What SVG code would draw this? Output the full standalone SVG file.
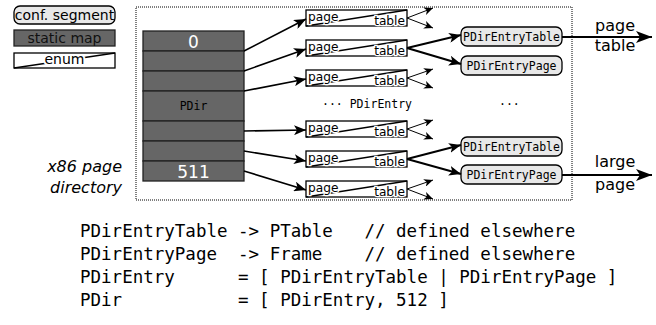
<svg xmlns="http://www.w3.org/2000/svg" width="656" height="325" viewBox="0 0 656 325">
<defs>
<marker id="ah" markerUnits="userSpaceOnUse" markerWidth="14" markerHeight="10" refX="12" refY="5" orient="auto"><path d="M0,0 L12,5 L0,10 L3,5 z" fill="#000"/></marker>
<marker id="ahs" markerUnits="userSpaceOnUse" markerWidth="10" markerHeight="8" refX="9" refY="4" orient="auto"><path d="M0,0 L9,4 L0,8 L2.5,4 z" fill="#000"/></marker>
<marker id="ahb" markerUnits="userSpaceOnUse" markerWidth="18" markerHeight="12" refX="16" refY="6" orient="auto"><path d="M0,0 L16,6 L0,12 L4,6 z" fill="#000"/></marker>
</defs>
<style>
.sans{font-family:"DejaVu Sans",sans-serif}
.mono{font-family:"DejaVu Sans Mono",monospace}
.seg{fill:#e8e8e8;stroke:#000;stroke-width:1.3}
.map{fill:#666;stroke:#222;stroke-width:1.3}
.enum{fill:#fff;stroke:#000;stroke-width:1.3}
.diag{stroke:#000;stroke-width:1.3}
.halo{stroke:#fff;stroke-width:2.5;paint-order:stroke;fill:#000}
.arr{stroke:#000;stroke-width:1.6;fill:none;marker-end:url(#ah)}
.fork{stroke:#000;stroke-width:1;fill:none;marker-end:url(#ahs)}
.bold{stroke:#000;stroke-width:2;fill:none;marker-end:url(#ah)}
.out{stroke:#000;stroke-width:2.2;fill:none;marker-end:url(#ahb)}
.pt{font-size:12.2px}
.nl{font-size:11.5px;text-anchor:middle}
.code{font-size:17.5px;white-space:pre}
</style>

<g id="legend">
<rect class="seg" x="14" y="6" width="101" height="18" rx="6"/>
<text class="sans" x="64.5" y="20" font-size="14" text-anchor="middle">conf. segment</text>
<rect class="map" x="14" y="30" width="101" height="16"/>
<text class="sans" x="64.5" y="43" font-size="14" text-anchor="middle" fill="#111">static map</text>
<rect class="enum" x="14" y="53" width="101" height="15"/>
<line class="diag" x1="14" y1="68" x2="115" y2="53"/>
<text class="sans" x="64.5" y="64" font-size="14" text-anchor="middle" stroke="#fff" stroke-width="4" paint-order="stroke">enum</text>
</g>

<rect id="frame" x="136" y="7" width="436" height="193" fill="none" stroke="#000" stroke-width="1" stroke-dasharray="1,1"/>

<g id="pdir">
<rect class="map" x="143" y="31" width="101" height="20"/>
<rect class="map" x="143" y="51" width="101" height="20"/>
<rect class="map" x="143" y="71" width="101" height="20"/>
<rect class="map" x="143" y="91" width="101" height="30"/>
<rect class="map" x="143" y="121" width="101" height="20"/>
<rect class="map" x="143" y="141" width="101" height="20"/>
<rect class="map" x="143" y="161" width="101" height="20"/>
<text class="sans" x="193.5" y="48" font-size="17" fill="#fff" text-anchor="middle">0</text>
<text class="mono" x="193.5" y="110" font-size="11.5" text-anchor="middle">PDir</text>
<text class="sans" x="193.5" y="178" font-size="17" fill="#fff" text-anchor="middle">511</text>
</g>

<g id="pt1"><rect class="enum" x="306" y="10" width="101" height="16"/><line class="diag" x1="306" y1="26" x2="407" y2="10"/><text class="sans pt halo" x="308" y="21">page</text><text class="sans pt halo" x="405" y="25" text-anchor="end">table</text></g>
<g id="pt2"><rect class="enum" x="306" y="40" width="101" height="16"/><line class="diag" x1="306" y1="56" x2="407" y2="40"/><text class="sans pt halo" x="308" y="51">page</text><text class="sans pt halo" x="405" y="55" text-anchor="end">table</text></g>
<g id="pt3"><rect class="enum" x="306" y="70" width="101" height="16"/><line class="diag" x1="306" y1="86" x2="407" y2="70"/><text class="sans pt halo" x="308" y="81">page</text><text class="sans pt halo" x="405" y="85" text-anchor="end">table</text></g>
<g id="pt4"><rect class="enum" x="306" y="121" width="101" height="16"/><line class="diag" x1="306" y1="137" x2="407" y2="121"/><text class="sans pt halo" x="308" y="132">page</text><text class="sans pt halo" x="405" y="136" text-anchor="end">table</text></g>
<g id="pt5"><rect class="enum" x="306" y="151" width="101" height="16"/><line class="diag" x1="306" y1="167" x2="407" y2="151"/><text class="sans pt halo" x="308" y="162">page</text><text class="sans pt halo" x="405" y="166" text-anchor="end">table</text></g>
<g id="pt6"><rect class="enum" x="306" y="181" width="101" height="16"/><line class="diag" x1="306" y1="197" x2="407" y2="181"/><text class="sans pt halo" x="308" y="192">page</text><text class="sans pt halo" x="405" y="196" text-anchor="end">table</text></g>

<g id="pdet1"><rect class="seg" x="461" y="27" width="101" height="19" rx="6"/><text class="mono nl" x="511.5" y="40.5">PDirEntryTable</text></g>
<g id="pdep1"><rect class="seg" x="461" y="56" width="101" height="19" rx="6"/><text class="mono nl" x="511.5" y="69.5">PDirEntryPage</text></g>
<g id="pdet2"><rect class="seg" x="461" y="137" width="101" height="19" rx="6"/><text class="mono nl" x="511.5" y="150.5">PDirEntryTable</text></g>
<g id="pdep2"><rect class="seg" x="461" y="165" width="101" height="19" rx="6"/><text class="mono nl" x="511.5" y="178.5">PDirEntryPage</text></g>

<g id="labels">
<text class="mono" x="322" y="108" font-size="11.5">··· PDirEntry</text>
<text class="mono" x="499" y="108" font-size="11.5">···</text>
<text class="sans" x="615" y="31" font-size="16" text-anchor="middle">page</text>
<text class="sans" x="615" y="51" font-size="16" text-anchor="middle">table</text>
<text class="sans" x="615" y="167" font-size="16" text-anchor="middle">large</text>
<text class="sans" x="615" y="190" font-size="16" text-anchor="middle">page</text>
<text class="sans" x="122" y="172" font-size="16" font-style="italic" text-anchor="end">x86 page</text>
<text class="sans" x="122" y="193" font-size="16" font-style="italic" text-anchor="end">directory</text>
</g>

<g id="connectors">
<line class="arr" x1="244" y1="51" x2="306" y2="19"/>
<line class="arr" x1="244" y1="71" x2="306" y2="49"/>
<line class="arr" x1="244" y1="91" x2="306" y2="79"/>
<line class="arr" x1="244" y1="131" x2="306" y2="130"/>
<line class="arr" x1="244" y1="151" x2="306" y2="161"/>
<line class="arr" x1="244" y1="171" x2="306" y2="190"/>
<line class="fork" x1="407" y1="18" x2="433" y2="8"/>
<line class="fork" x1="407" y1="18" x2="433" y2="28"/>
<line class="fork" x1="407" y1="78" x2="433" y2="69"/>
<line class="fork" x1="407" y1="78" x2="433" y2="88"/>
<line class="fork" x1="407" y1="129" x2="433" y2="120"/>
<line class="fork" x1="407" y1="129" x2="433" y2="139"/>
<line class="fork" x1="407" y1="189" x2="433" y2="180"/>
<line class="fork" x1="407" y1="189" x2="433" y2="199"/>
<line class="bold" x1="407" y1="48" x2="461" y2="35"/>
<line class="bold" x1="407" y1="48" x2="461" y2="64"/>
<line class="bold" x1="407" y1="159" x2="461" y2="145"/>
<line class="bold" x1="407" y1="159" x2="461" y2="174"/>
<line class="out" x1="562" y1="37" x2="652" y2="37"/>
<line class="out" x1="562" y1="175" x2="652" y2="175"/>
</g>

<g id="code">
<text class="mono code" x="80" y="237">PDirEntryTable -&gt; PTable   // defined elsewhere</text>
<text class="mono code" x="80" y="260">PDirEntryPage  -&gt; Frame    // defined elsewhere</text>
<text class="mono code" x="80" y="283">PDirEntry      = [ PDirEntryTable | PDirEntryPage ]</text>
<text class="mono code" x="80" y="306">PDir           = [ PDirEntry, 512 ]</text>
</g>
</svg>
